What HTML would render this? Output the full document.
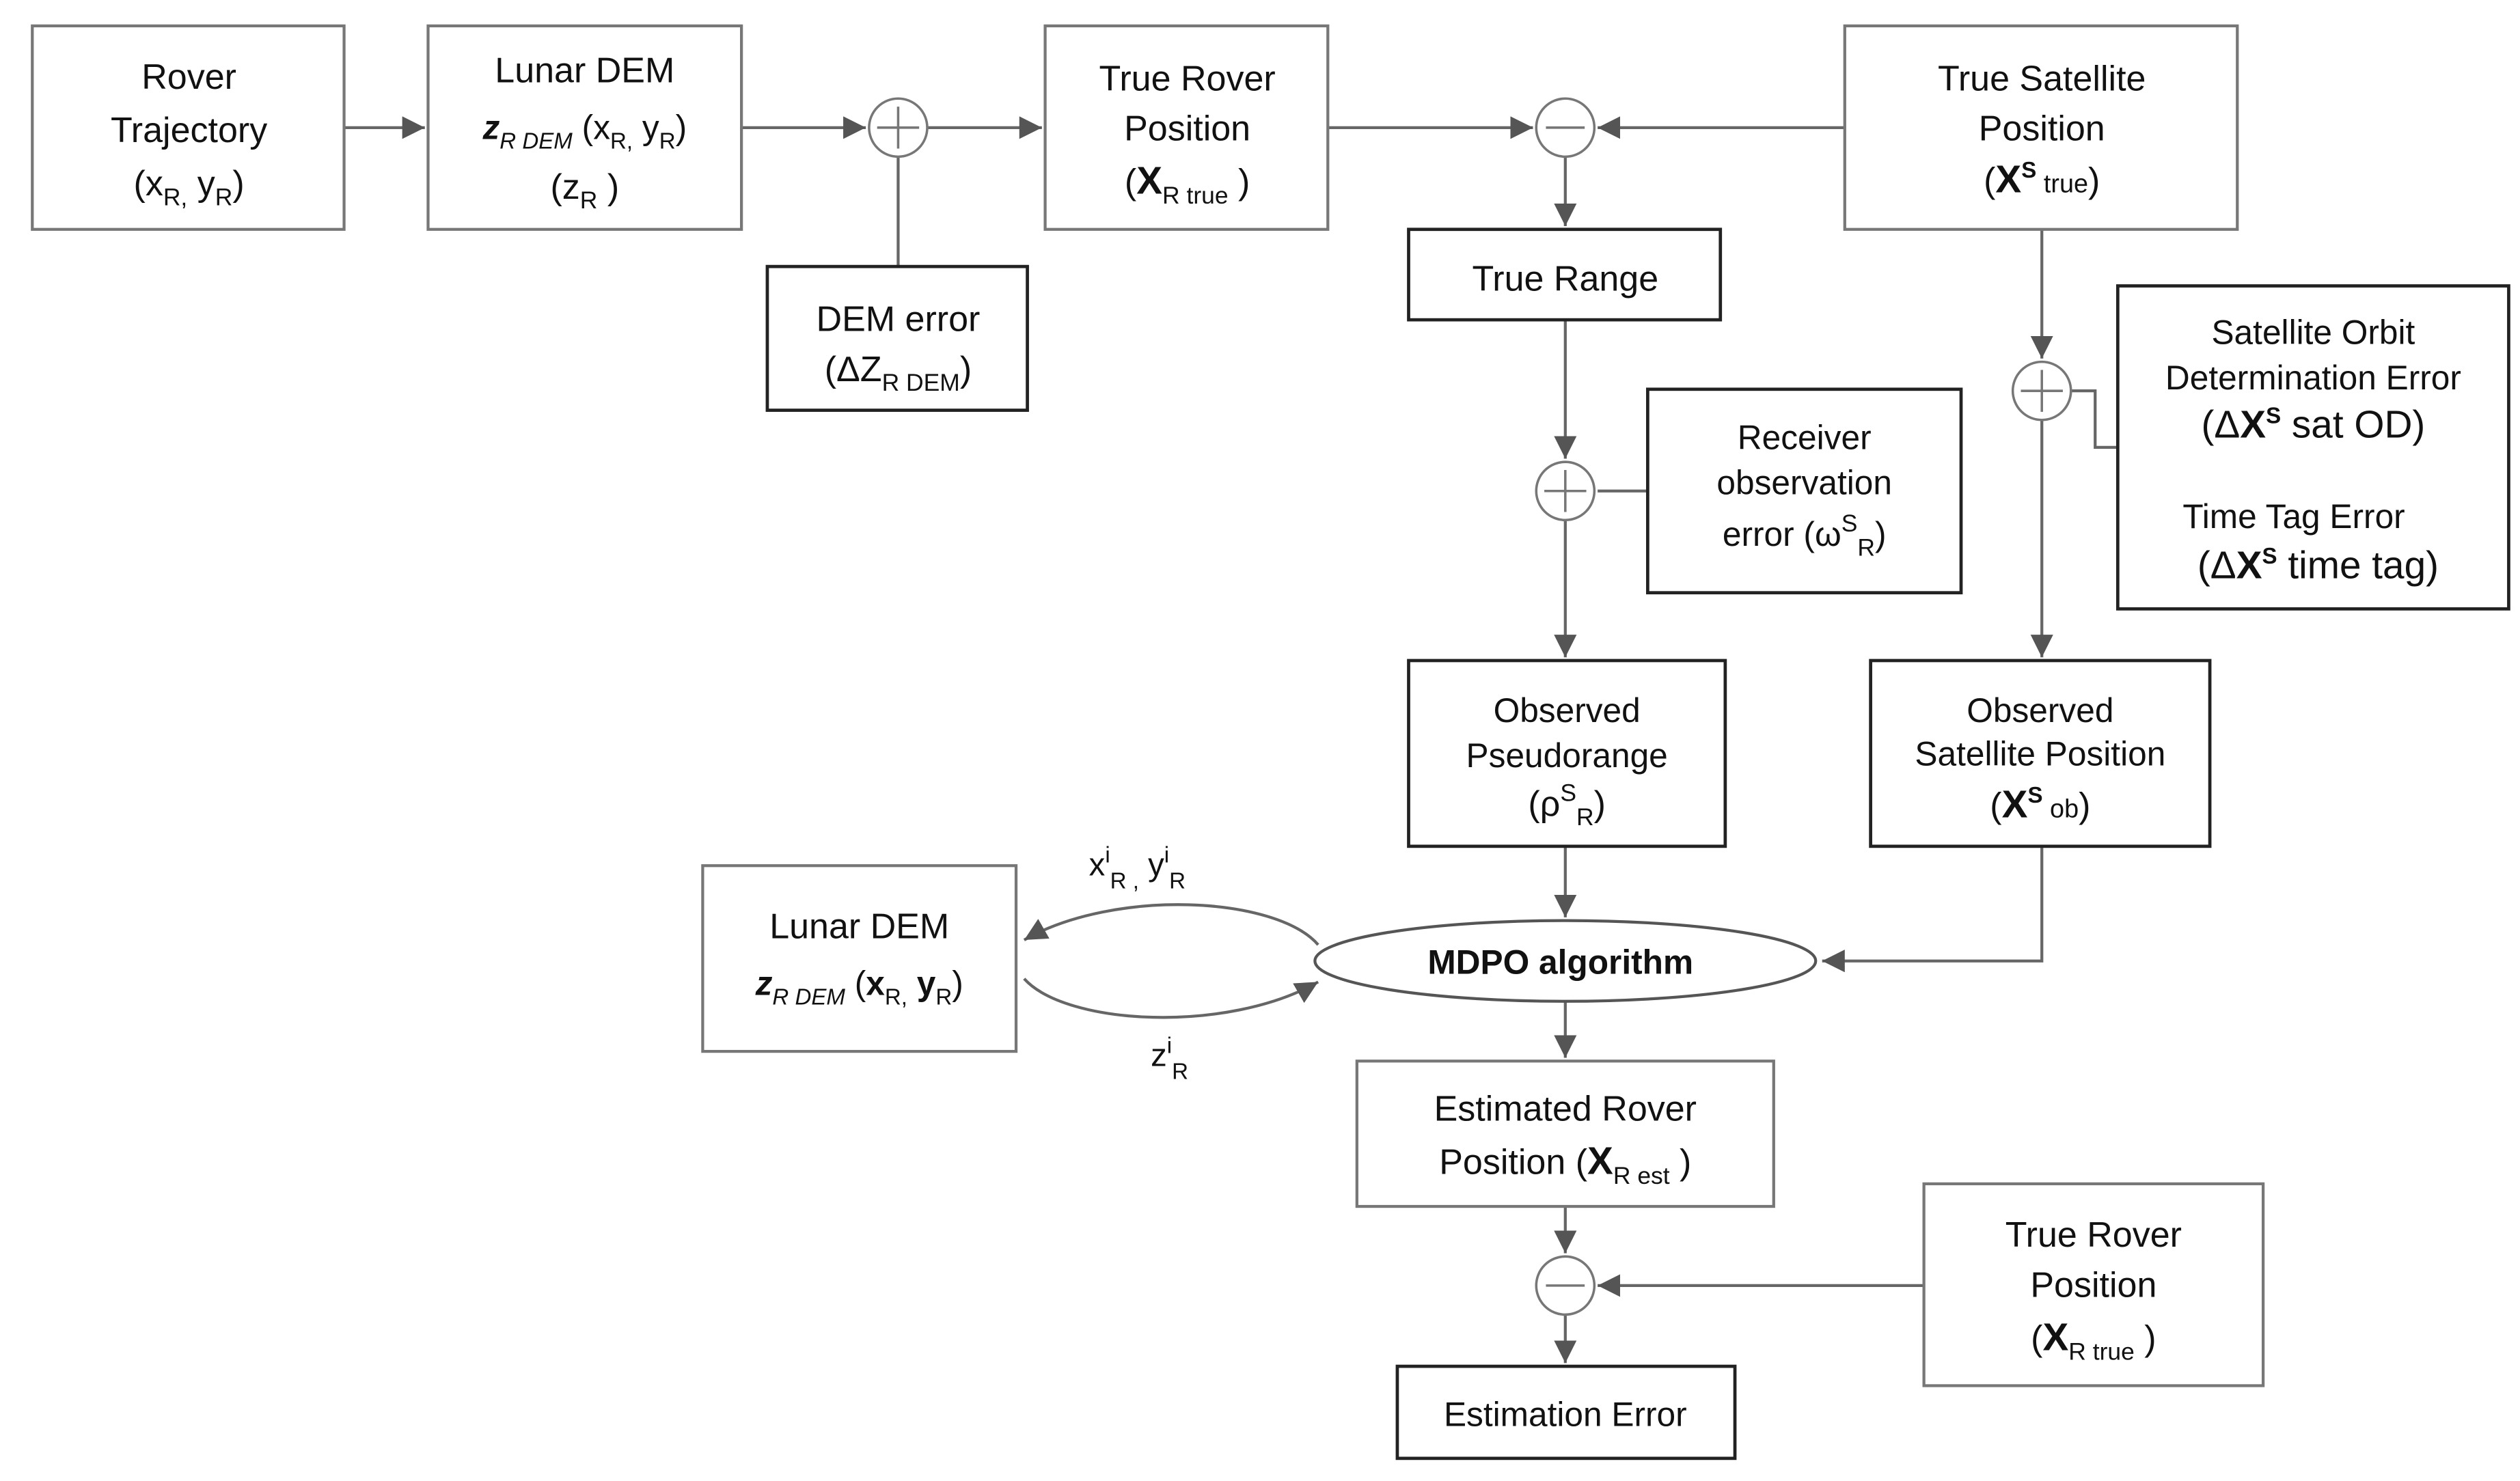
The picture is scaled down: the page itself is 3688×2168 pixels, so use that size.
<!DOCTYPE html>
<html><head><meta charset="utf-8"><style>
html,body{margin:0;padding:0;background:#fff;width:3688px;height:2168px;overflow:hidden}
svg{display:block}
text{font-family:"Liberation Sans",sans-serif;fill:#111;text-anchor:middle}
.g{fill:#fff;stroke:#777;stroke-width:1.8}
.b{fill:#fff;stroke:#222;stroke-width:2}
.l{stroke:#666;stroke-width:1.8;fill:none}
.c{fill:#fff;stroke:#777;stroke-width:1.5}
</style></head><body>
<svg width="3688" height="2168" viewBox="0 0 1560 917" xmlns="http://www.w3.org/2000/svg">
<defs><marker id="a" viewBox="0 0 10 10" refX="10" refY="5" markerWidth="8" markerHeight="8" markerUnits="userSpaceOnUse" orient="auto"><path d="M0,0L10,5L0,10z" fill="#555"/></marker>
<marker id="a2" viewBox="0 0 10 10" refX="10" refY="5" markerWidth="14" markerHeight="14" markerUnits="userSpaceOnUse" orient="auto"><path d="M0,0L10,5L0,10z" fill="#555"/></marker></defs>

<!-- connectors -->
<line class="l" x1="213" y1="79" x2="263" y2="79" marker-end="url(#a2)"/>
<line class="l" x1="459" y1="79" x2="536" y2="79" marker-end="url(#a2)"/>
<line class="l" x1="574" y1="79" x2="645" y2="79" marker-end="url(#a2)"/>
<line class="l" x1="556" y1="97" x2="556" y2="165"/>
<line class="l" x1="822" y1="79" x2="949" y2="79" marker-end="url(#a2)"/>
<line class="l" x1="1142" y1="79" x2="989" y2="79" marker-end="url(#a2)"/>
<line class="l" x1="969" y1="97" x2="969" y2="140" marker-end="url(#a2)"/>
<line class="l" x1="969" y1="198" x2="969" y2="284" marker-end="url(#a2)"/>
<line class="l" x1="1020" y1="304" x2="989" y2="304"/>
<line class="l" x1="969" y1="322" x2="969" y2="407" marker-end="url(#a2)"/>
<line class="l" x1="1264" y1="142" x2="1264" y2="222" marker-end="url(#a2)"/>
<polyline class="l" points="1282,242 1297,242 1297,277 1311,277"/>
<line class="l" x1="1264" y1="260" x2="1264" y2="407" marker-end="url(#a2)"/>
<line class="l" x1="969" y1="524" x2="969" y2="568" marker-end="url(#a2)"/>
<polyline class="l" points="1264,524 1264,595 1128,595" marker-end="url(#a2)"/>
<line class="l" x1="969" y1="620" x2="969" y2="655" marker-end="url(#a2)"/>
<line class="l" x1="969" y1="747" x2="969" y2="776" marker-end="url(#a2)"/>
<line class="l" x1="1191" y1="796" x2="989" y2="796" marker-end="url(#a2)"/>
<line class="l" x1="969" y1="814" x2="969" y2="844" marker-end="url(#a2)"/>
<path class="l" d="M816,585 C790,555 690,550 634,582" marker-end="url(#a2)"/>
<path class="l" d="M634,606 C660,635 760,640 816,608" marker-end="url(#a2)"/>

<!-- boxes -->
<rect class="g" x="20" y="16" width="193" height="126"/>
<text x="117" y="55" font-size="22">Rover</text>
<text x="117" y="88" font-size="22">Trajectory</text>
<text x="117" y="121" font-size="22">(x<tspan font-size="15" dy="6">R,</tspan><tspan dy="-6"> y</tspan><tspan font-size="15" dy="6">R</tspan><tspan dy="-6">)</tspan></text>

<rect class="g" x="265" y="16" width="194" height="126"/>
<text x="362" y="51" font-size="22">Lunar DEM</text>
<text x="362" y="86" font-size="21"><tspan font-weight="bold" font-style="italic">z</tspan><tspan font-size="14" font-style="italic" dy="6">R DEM</tspan><tspan dy="-6"> (x</tspan><tspan font-size="14" dy="6">R,</tspan><tspan dy="-6"> y</tspan><tspan font-size="14" dy="6">R</tspan><tspan dy="-6">)</tspan></text>
<text x="362" y="123" font-size="22">(z<tspan font-size="15" dy="6">R</tspan><tspan dy="-6"> )</tspan></text>

<circle class="c" cx="556" cy="79" r="18"/>
<path d="M543,79H569M556,66V92" stroke="#777" stroke-width="1.5"/>

<rect class="b" x="475" y="165" width="161" height="89"/>
<text x="556" y="205" font-size="22">DEM error</text>
<text x="556" y="236" font-size="22">(ΔZ<tspan font-size="15" dy="6">R DEM</tspan><tspan dy="-6">)</tspan></text>

<rect class="g" x="647" y="16" width="175" height="126"/>
<text x="735" y="56" font-size="22">True Rover</text>
<text x="735" y="87" font-size="22">Position</text>
<text x="735" y="120" font-size="22">(<tspan font-weight="bold" font-size="24">X</tspan><tspan font-size="15" dy="6">R true</tspan><tspan dy="-6"> )</tspan></text>

<circle class="c" cx="969" cy="79" r="18"/>
<path d="M957,79H981" stroke="#777" stroke-width="1.5"/>

<rect class="g" x="1142" y="16" width="243" height="126"/>
<text x="1264" y="56" font-size="22">True Satellite</text>
<text x="1264" y="87" font-size="22">Position</text>
<text x="1264" y="119" font-size="22">(<tspan font-weight="bold" font-size="24">X</tspan><tspan font-size="14" font-weight="bold" dy="-9">S</tspan><tspan font-size="16" dy="9"> true</tspan>)</text>

<rect class="b" x="872" y="142" width="193" height="56"/>
<text x="969" y="180" font-size="22">True Range</text>

<circle class="c" cx="1264" cy="242" r="18"/>
<path d="M1251,242H1277M1264,229V255" stroke="#777" stroke-width="1.5"/>

<rect class="b" x="1311" y="177" width="242" height="200"/>
<text x="1432" y="213" font-size="21">Satellite Orbit</text>
<text x="1432" y="241" font-size="21">Determination Error</text>
<text x="1432" y="271" font-size="24">(Δ<tspan font-weight="bold">X</tspan><tspan font-size="14" font-weight="bold" dy="-9">S</tspan><tspan dy="9"> sat OD)</tspan></text>
<text x="1420" y="327" font-size="21">Time Tag Error</text>
<text x="1435" y="358" font-size="24">(Δ<tspan font-weight="bold">X</tspan><tspan font-size="14" font-weight="bold" dy="-9">S</tspan><tspan dy="9"> time tag)</tspan></text>

<circle class="c" cx="969" cy="304" r="18"/>
<path d="M956,304H982M969,291V317" stroke="#777" stroke-width="1.5"/>

<rect class="b" x="1020" y="241" width="194" height="126"/>
<text x="1117" y="278" font-size="21">Receiver</text>
<text x="1117" y="306" font-size="21">observation</text>
<text x="1117" y="338" font-size="21">error (ω<tspan font-size="15" dy="-9">S</tspan><tspan font-size="15" dy="15">R</tspan><tspan dy="-6">)</tspan></text>

<rect class="b" x="872" y="409" width="196" height="115"/>
<text x="970" y="447" font-size="21">Observed</text>
<text x="970" y="475" font-size="21">Pseudorange</text>
<text x="970" y="505" font-size="22">(ρ<tspan font-size="15" dy="-9">S</tspan><tspan font-size="15" dy="15">R</tspan><tspan dy="-6">)</tspan></text>

<rect class="b" x="1158" y="409" width="210" height="115"/>
<text x="1263" y="447" font-size="21">Observed</text>
<text x="1263" y="474" font-size="21">Satellite Position</text>
<text x="1263" y="506" font-size="22">(<tspan font-weight="bold" font-size="24">X</tspan><tspan font-size="14" font-weight="bold" dy="-9">S</tspan><tspan font-size="16" dy="9"> ob</tspan>)</text>

<rect class="g" x="435" y="536" width="194" height="115"/>
<text x="532" y="581" font-size="22">Lunar DEM</text>
<text x="532" y="616" font-size="21"><tspan font-weight="bold" font-style="italic">z</tspan><tspan font-size="14" font-style="italic" dy="6">R DEM</tspan><tspan dy="-6"> (</tspan><tspan font-weight="bold">x</tspan><tspan font-size="14" dy="6">R,</tspan><tspan dy="-6" font-weight="bold"> y</tspan><tspan font-size="14" dy="6">R</tspan><tspan dy="-6">)</tspan></text>

<text x="704" y="542" font-size="20">x<tspan font-size="14" dy="-8">i</tspan><tspan font-size="14" dy="16">R ,</tspan><tspan dy="-8"> y</tspan><tspan font-size="14" dy="-8">i</tspan><tspan font-size="14" dy="16">R</tspan></text>
<text x="724" y="660" font-size="20">z<tspan font-size="14" dy="-8">i</tspan><tspan font-size="14" dy="16">R</tspan></text>

<ellipse cx="969" cy="595" rx="155" ry="25" fill="#fff" stroke="#555" stroke-width="1.8"/>
<text x="966" y="603" font-size="21" font-weight="bold">MDPO algorithm</text>

<rect class="g" x="840" y="657" width="258" height="90"/>
<text x="969" y="694" font-size="22">Estimated Rover</text>
<text x="969" y="727" font-size="22">Position (<tspan font-weight="bold" font-size="24">X</tspan><tspan font-size="15" dy="6">R est</tspan><tspan dy="-6"> )</tspan></text>

<circle class="c" cx="969" cy="796" r="18"/>
<path d="M957,796H981" stroke="#777" stroke-width="1.5"/>

<rect class="g" x="1191" y="733" width="210" height="125"/>
<text x="1296" y="772" font-size="22">True Rover</text>
<text x="1296" y="803" font-size="22">Position</text>
<text x="1296" y="836" font-size="22">(<tspan font-weight="bold" font-size="24">X</tspan><tspan font-size="15" dy="6">R true</tspan><tspan dy="-6"> )</tspan></text>

<rect class="b" x="865" y="846" width="209" height="57"/>
<text x="969" y="883" font-size="21">Estimation Error</text>
</svg>
</body></html>
